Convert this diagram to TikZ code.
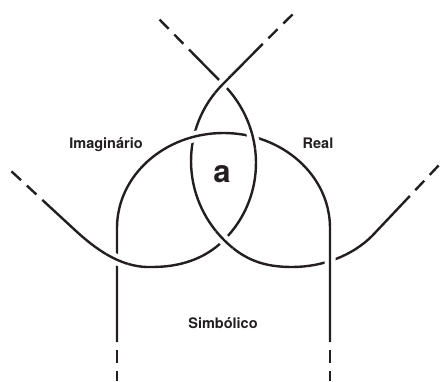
\documentclass[tikz,border=0pt]{standalone}
\usepackage{fontspec}
\setmainfont{TeX Gyre Heros}
\definecolor{ink}{HTML}{231F20}
\begin{document}
\begin{tikzpicture}[x=1pt,y=-1pt,
  ring/.style={draw=ink,line width=2.4pt},
  halo/.style={draw=white,line width=11pt},
  tail/.style={draw=ink,line width=2.4pt,dash pattern=on 13pt off 8pt,dash phase=13pt},
  lbl/.style={text=ink,font=\bfseries\fontsize{14.5}{16}\selectfont,anchor=base,inner sep=0pt},
  biglbl/.style={text=ink,font=\bfseries\fontsize{31}{34}\selectfont,anchor=base,inner sep=0pt}]
\useasboundingbox (0,0) rectangle (442,381);
\def\pathR{(42.3,199.9) -- (76,231) .. controls (101,254) and (125,268) .. (152,267) .. controls (180,267) and (205,259) .. (224,240) .. controls (267.3,196.7) and (266.3,127.3) .. (223,84) -- (189,49.5)}
\def\pathI{(262.7,43.9) -- (223,84) .. controls (179.7,127.3) and (180.7,196.7) .. (224,240) .. controls (244,260) and (264,267) .. (292,267) .. controls (322,267) and (352,256) .. (372,236) -- (409.8,196)}
\def\pathS{(117,342) -- (117,228) .. controls (117,175.5) and (164.7,133) .. (223.5,133) .. controls (282.3,133) and (330,175.5) .. (330,228) -- (330,342)}
% full rings
\draw[ring] \pathR;
\draw[ring] \pathI;
\draw[ring] \pathS;
% dashed tails
\draw[tail] (189,49.5) -- (158,18);
\draw[tail] (262.7,43.9) -- (294,13);
\draw[tail] (42.3,199.9) -- (10,170);
\draw[tail] (409.8,196) -- (440,164);
\draw[tail] (117,342) -- (117,381);
\draw[tail] (330,342) -- (330,381);
% over-crossings
\begin{scope}\clip (223,84) circle[radius=12pt];\draw[halo] \pathI;\draw[ring] \pathI;\end{scope}
\begin{scope}\clip (224,240) circle[radius=12pt];\draw[halo] \pathI;\draw[ring] \pathI;\end{scope}
\begin{scope}\clip (193.3,137) circle[radius=12pt];\draw[halo] \pathS;\draw[ring] \pathS;\end{scope}
\begin{scope}\clip (253.7,137) circle[radius=12pt];\draw[halo] \pathR;\draw[ring] \pathR;\end{scope}
\begin{scope}\clip (117,259) circle[radius=12pt];\draw[halo] \pathR;\draw[ring] \pathR;\end{scope}
\begin{scope}\clip (330,261) circle[radius=12pt];\draw[halo] \pathS;\draw[ring] \pathS;\end{scope}
% labels
\node[lbl] (imag) at (106,148) {Imaginário};
\node[lbl] (real) at (318,148) {Real};
\node[lbl] (simb) at (223,328) {Simbólico};
\node[biglbl] (obja) at (222,182) {a};
\end{tikzpicture}
\end{document}
